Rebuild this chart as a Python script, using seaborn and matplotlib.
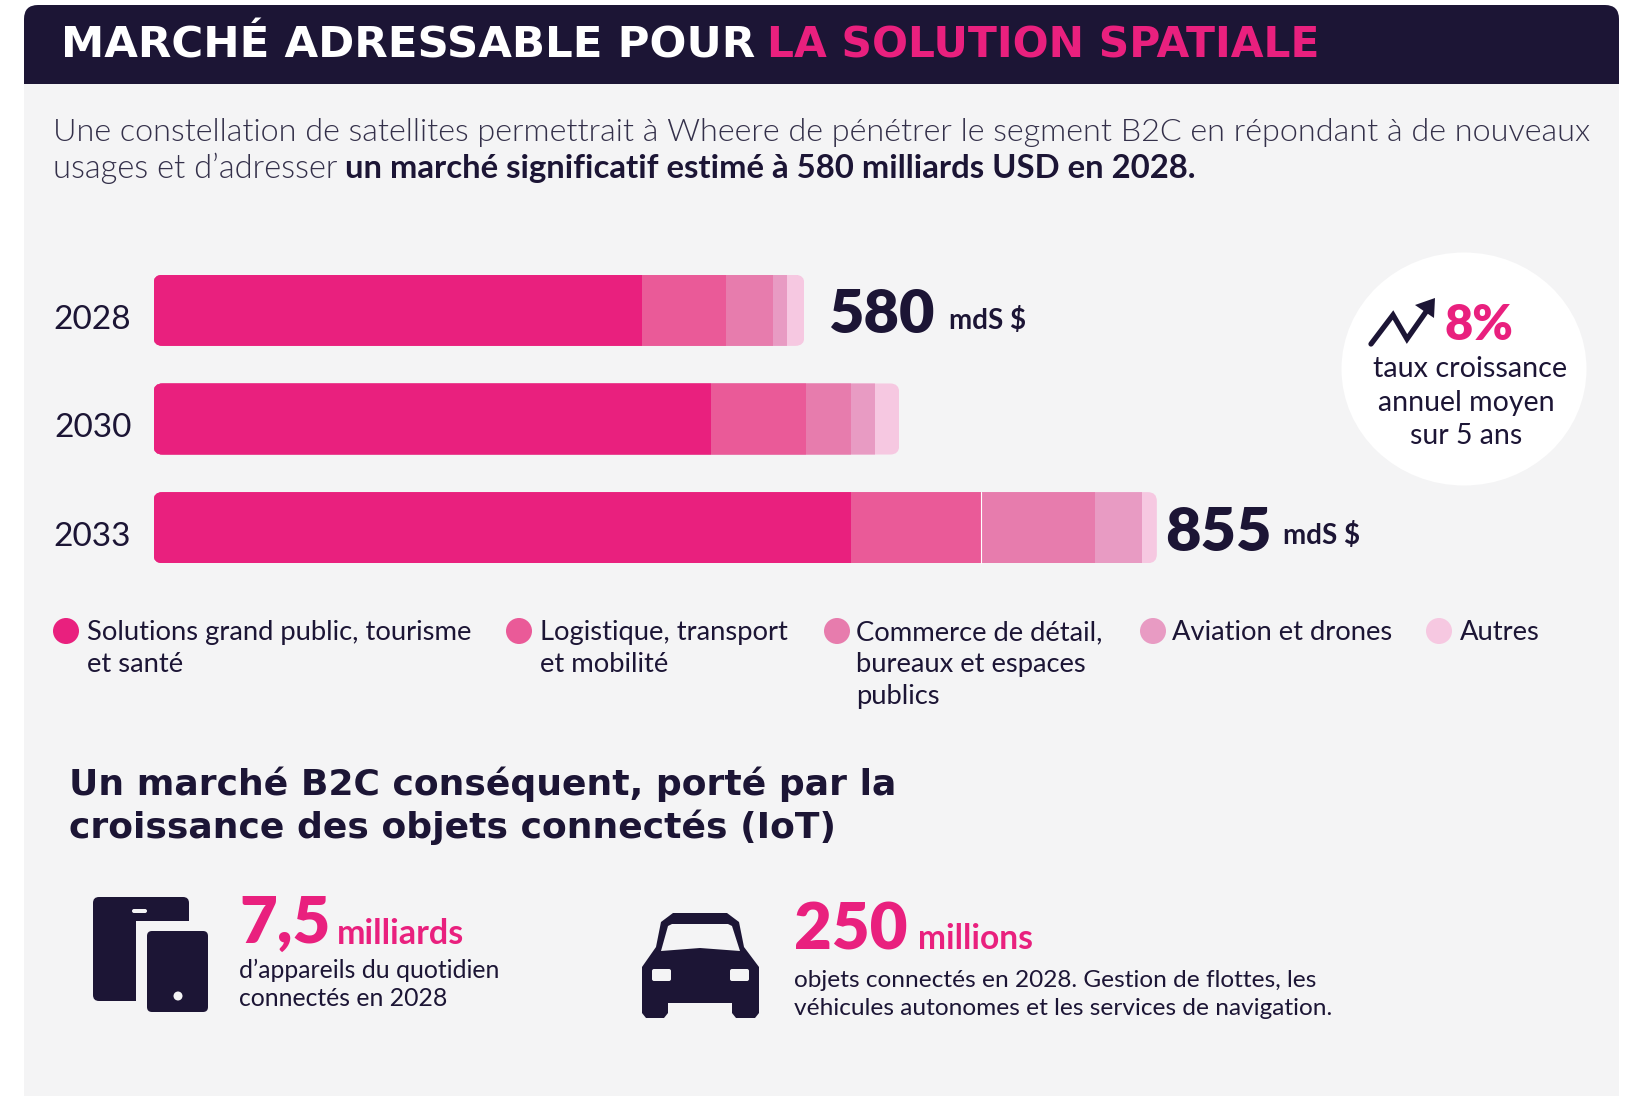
import numpy as np
import pandas as pd
import seaborn as sns
import matplotlib.pyplot as plt
from matplotlib.patches import Rectangle, FancyBboxPatch, Ellipse, Polygon, Circle
from matplotlib.transforms import IdentityTransform, ScaledTranslation

# values (same scale as the 855 bar)
years = ['2028', '2030', '2033']
segments = ['Solutions grand public, tourisme\net santé',
            'Logistique, transport\net mobilité',
            'Commerce de détail,\nbureaux et espaces\npublics',
            'Aviation et drones',
            'Autres']
grand_public = [417, 476, 596]
logistique = [72, 81, 111]
commerce = [40, 39, 97]
aviation = [12, 20, 40]
autres = [15, 21, 13]
colors = ['#e9207e', '#ea5a98', '#e77cad', '#e89bc3', '#f6c8e1']

NAVY = '#1c1535'
PINK = '#e9207e'
BG = '#f4f4f5'
GREY = '#34304a'

sns.set_theme(style='white')
plt.rcParams['font.family'] = ['Lato', 'DejaVu Sans']

fig = plt.figure(figsize=(16.43, 10.96), dpi=100, facecolor='white')

# background axes in pixels, y going down
bg = fig.add_axes([0, 0, 1, 1])
bg.set_xlim(0, 1643)
bg.set_ylim(1096, 0)
bg.axis('off')
bg.add_patch(Rectangle((24, 30), 1595, 1066, color=BG, lw=0))
bg.add_patch(FancyBboxPatch((24, 5), 1595, 50, boxstyle='round,pad=0,rounding_size=14', color=NAVY, lw=0))
bg.add_patch(Rectangle((24, 30), 1595, 54, color=NAVY, lw=0))

# header
bg.text(61, 58, 'MARCHÉ ADRESSABLE POUR', color='white', fontsize=31.3, fontweight='bold', family='DejaVu Sans')
bg.text(767, 58, 'LA SOLUTION SPATIALE', color=PINK, fontsize=30.5, fontweight='bold', family='DejaVu Sans')

# intro
bg.text(53, 141, 'Une constellation de satellites permettrait à Wheere de pénétrer le segment B2C en répondant à de nouveaux',
        color=GREY, fontsize=23.3, fontweight=300)
bg.text(53, 178, 'usages et d’adresser', color=GREY, fontsize=23.6, fontweight=300)
bg.text(345, 178, 'un marché significatif estimé à 580 milliards USD en 2028.', color=NAVY, fontsize=23.7, fontweight='bold')

# stacked bars, longest drawn first
values = np.array([grand_public, logistique, commerce, aviation, autres])
cumul = values.cumsum(axis=0)
df = pd.DataFrame({'year': years * len(segments),
                   'segment': np.repeat(segments, len(years)),
                   'cumul': cumul.ravel()})

ax = fig.add_axes([153.5 / 1643, 1 - 582 / 1096, 1045 / 1643, 326 / 1096], facecolor='none')
sns.barplot(data=df, y='year', x='cumul', hue='segment', hue_order=segments[::-1],
            palette=dict(zip(segments, colors)), dodge=False, width=0.654,
            saturation=1, order=years, legend=False, linewidth=0, ax=ax)

# thin white seam on the 2033 bar
ax.plot([cumul[1, 2]] * 2, [2 - 0.327, 2 + 0.327], color='white', lw=0.8)

ax.set_xlim(0, 1045 * 855 / 1001)
ax.set_ylim(2.5, -0.5)
ax.set_xlabel('')
ax.set_ylabel('')
ax.set_xticks([])
sns.despine(ax=ax, left=True, bottom=True)
ax.tick_params(axis='y', length=0, pad=16, labelsize=24, labelcolor=NAVY)
for label in ax.get_yticklabels():
    label.set_transform(label.get_transform() + ScaledTranslation(0, -4.5 / 72, fig.dpi_scale_trans))

# rounded ends on each bar
fig.canvas.draw()
for p in ax.patches:
    box = p.get_window_extent()
    if box.width == 0:
        continue
    row = round(p.get_y() + p.get_height() / 2)
    x1 = ax.transData.transform((cumul[-1, row], 0))[0]
    clip = FancyBboxPatch((box.x0, box.y0), x1 - box.x0, box.height, boxstyle='round,pad=0,rounding_size=9',
                          transform=IdentityTransform())
    p.set_clip_path(clip)

# totals
bg.text(828, 333, '580', color=NAVY, fontsize=44, fontweight='heavy')
bg.text(949, 329, 'mdS $', color=NAVY, fontsize=20, fontweight='bold')
bg.text(1165, 551, '855', color=NAVY, fontsize=44, fontweight='heavy')
bg.text(1283, 544, 'mdS $', color=NAVY, fontsize=20, fontweight='bold')

# growth bubble
bg.add_patch(Ellipse((1464, 369), 245, 233, color='white', lw=0))
bg.plot([1371, 1393, 1407, 1428], [344, 315, 339, 309], color=NAVY, lw=3.8, solid_capstyle='round', solid_joinstyle='miter')
bg.add_patch(Polygon([(1415, 305), (1435, 298), (1434, 318)], color=NAVY, lw=0))
bg.text(1444, 340, '8%', color=PINK, fontsize=35, fontweight='heavy')
bg.text(1470, 377, 'taux croissance', color=NAVY, fontsize=20.7, ha='center')
bg.text(1466, 411, 'annuel moyen', color=NAVY, fontsize=20.5, ha='center')
bg.text(1466, 444, 'sur 5 ans', color=NAVY, fontsize=20.5, ha='center')

# legend
legend_dots = [66, 519, 837, 1153, 1439]
legend_text = [87, 540, 856, 1172, 1460]
for seg, col, x, tx in zip(segments, colors, legend_dots, legend_text):
    bg.add_patch(Circle((x, 631), 13, color=col, lw=0))
    for i, line in enumerate(seg.split('\n')):
        bg.text(tx, 640 + 32 * i, line, color=NAVY, fontsize=19.7)

# B2C section
bg.text(69, 795, 'Un marché B2C conséquent, porté par la', color=NAVY, fontsize=26, fontweight='bold', family='DejaVu Sans')
bg.text(69, 838, 'croissance des objets connectés (IoT)', color=NAVY, fontsize=26, fontweight='bold', family='DejaVu Sans')

# devices icon
bg.add_patch(FancyBboxPatch((93, 897), 96, 104, boxstyle='round,pad=0,rounding_size=6', color=NAVY, lw=0))
bg.add_patch(Rectangle((136, 921), 60, 85, color=BG, lw=0))
bg.add_patch(FancyBboxPatch((147, 931), 61, 81, boxstyle='round,pad=0,rounding_size=5', color=NAVY, lw=0))
bg.add_patch(FancyBboxPatch((132, 909), 15, 4, boxstyle='round,pad=0,rounding_size=2', color=BG, lw=0))
bg.add_patch(Circle((178, 996), 4.5, color=BG, lw=0))

# car icon
bg.add_patch(Polygon([(642, 967), (656, 947), (661, 922), (673, 913), (727, 913), (739, 922), (744, 947),
                      (759, 967), (759, 1013), (755, 1018), (736, 1018), (732, 1013), (732, 1003),
                      (668, 1003), (668, 1013), (664, 1018), (646, 1018), (642, 1013)], color=NAVY, lw=0))
bg.add_patch(Polygon([(661, 951), (668, 926), (672, 924), (728, 924), (732, 926), (740, 951), (700, 948)], color=BG, lw=0))
bg.add_patch(FancyBboxPatch((652, 969), 19, 12, boxstyle='round,pad=0,rounding_size=2', color=BG, lw=0))
bg.add_patch(FancyBboxPatch((730, 969), 19, 12, boxstyle='round,pad=0,rounding_size=2', color=BG, lw=0))

# IoT figures
bg.text(239, 943, '7,5', color=PINK, fontsize=47, fontweight='heavy')
bg.text(337, 944, 'milliards', color=PINK, fontsize=24.5, fontweight='bold')
bg.text(239, 978, 'd’appareils du quotidien', color=NAVY, fontsize=17.8)
bg.text(239, 1006, 'connectés en 2028', color=NAVY, fontsize=17.8)
bg.text(794, 950, '250', color=PINK, fontsize=47, fontweight='heavy')
bg.text(918, 949, 'millions', color=PINK, fontsize=24.2, fontweight='bold')
bg.text(794, 987, 'objets connectés en 2028. Gestion de flottes, les', color=NAVY, fontsize=17.6)
bg.text(794, 1015, 'véhicules autonomes et les services de navigation.', color=NAVY, fontsize=17.6)

fig.savefig('out.png', dpi=100)
